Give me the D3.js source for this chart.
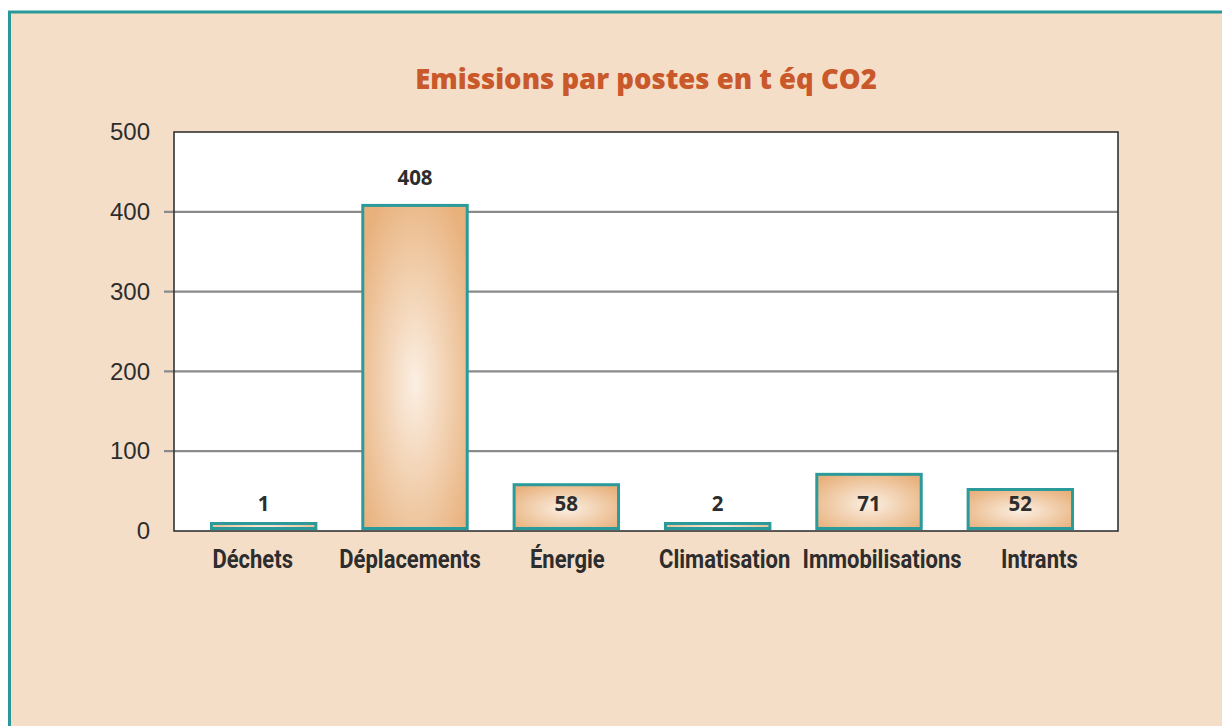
<!DOCTYPE html>
<html><head><meta charset="utf-8">
<script src="https://cdn.jsdelivr.net/npm/d3@7"></script>
<style>
html,body{margin:0;padding:0;background:#fff;}
svg{display:block;}
</style></head>
<body>
<svg id="chart" width="1222" height="726"></svg>
<script>
const categories = ["Déchets","Déplacements","Énergie","Climatisation","Immobilisations","Intrants"];
const values = [1, 408, 58, 2, 71, 52];
const yTicks = [0, 100, 200, 300, 400, 500];
const title = "Emissions par postes en t éq CO2";

const svg = d3.select("#chart");
const W = 1222, H = 726;
const plot = {left:174, right:1118, top:132, bottom:531};

// panel background
svg.append("rect").attr("x",9.5).attr("y",12).attr("width",W).attr("height",H)
  .attr("fill","#f5dec8").attr("stroke","#2a9898").attr("stroke-width",3);

// title
svg.append("text").attr("x",(plot.left+plot.right)/2).attr("y",89)
  .attr("text-anchor","middle").attr("fill","#c9582b")
  .style("font-family","'Open Sans', sans-serif").style("font-weight","800").style("font-size","27.5px")
  .text(title);

const y = d3.scaleLinear().domain([0,500]).range([plot.bottom, plot.top]);
const xLab = d3.scaleBand().domain(categories).range([plot.left, plot.right]);
const xBar = d3.scaleBand().domain(categories).range([188, 1096]).paddingInner(0.31).paddingOuter(0.155);

// plot area
svg.append("rect").attr("x",plot.left).attr("y",plot.top)
  .attr("width",plot.right-plot.left).attr("height",plot.bottom-plot.top)
  .attr("fill","#fff");

// gridlines
svg.append("g").selectAll("line").data(yTicks.filter(t=>t>0 && t<500)).join("line")
  .attr("x1",164).attr("x2",plot.right)
  .attr("y1",d=>y(d)).attr("y2",d=>y(d))
  .attr("stroke","#8a8a8a").attr("stroke-width",2.2);

// plot border
svg.append("rect").attr("x",plot.left).attr("y",plot.top)
  .attr("width",plot.right-plot.left).attr("height",plot.bottom-plot.top)
  .attr("fill","none").attr("stroke","#333").attr("stroke-width",1.6);

// y axis labels
const yAxis = svg.append("g").attr("transform",`translate(${plot.left},0)`)
  .call(d3.axisLeft(y).tickValues(yTicks).tickSize(0).tickPadding(24));
yAxis.select(".domain").remove();
yAxis.selectAll("text").attr("fill","#2d2d2d")
  .style("font-family","'Liberation Sans', Arial, sans-serif").style("font-size","24px");

// gradient
const defs = svg.append("defs");
const grad = defs.append("radialGradient").attr("id","barGrad")
  .attr("cx","50%").attr("cy","55%").attr("r","65%");
grad.append("stop").attr("offset","0%").attr("stop-color","#fbefe3");
grad.append("stop").attr("offset","100%").attr("stop-color","#e8b17c");

// bars
const minH = 5;
svg.append("g").selectAll("rect").data(values).join("rect")
  .attr("x",(d,i)=>xBar(categories[i]))
  .attr("width",xBar.bandwidth())
  .attr("y",d=>Math.min(y(d), y(0)-2.5-minH))
  .attr("height",d=>Math.max(y(0)-2.5-y(d), minH))
  .attr("fill","url(#barGrad)")
  .attr("stroke","#2b9a9a").attr("stroke-width",3);

// value labels
svg.append("g").selectAll("text").data(values).join("text")
  .attr("x",(d,i)=>xBar(categories[i])+xBar.bandwidth()/2)
  .attr("y",d=> d>100 ? y(d)-20 : y(0)-20)
  .attr("text-anchor","middle").attr("fill","#2d2d2d")
  .style("font-family","'Open Sans', sans-serif").style("font-weight","700").style("font-size","20.5px")
  .text(d=>d);

// category labels
const xAxis = svg.append("g").attr("transform",`translate(0,${plot.bottom})`)
  .call(d3.axisBottom(xLab).tickSize(0).tickPadding(0));
xAxis.select(".domain").remove();
xAxis.selectAll("text").attr("fill","#2d2d2d").attr("dy",null).attr("y",37)
  .attr("transform","scale(0.88,1)")
  .style("font-family","Roboto, sans-serif").style("font-weight","700").style("font-size","25px");
</script>
</body></html>
